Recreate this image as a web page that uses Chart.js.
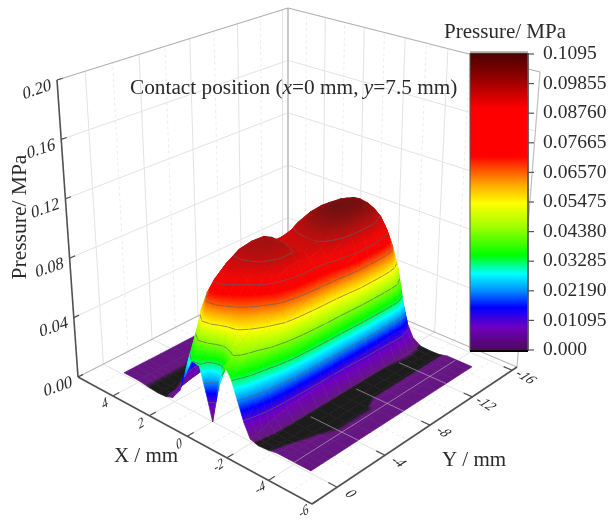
<!DOCTYPE html>
<html>
<head>
<meta charset="utf-8">
<style>
    html, body { margin: 0; padding: 0; background: #fff; }
    canvas { display: block; }
</style>
<script src="https://cdn.jsdelivr.net/npm/chart.js@4"></script>
</head>
<body>
<canvas id="surface" width="611" height="521"></canvas>
<script>
// grid of the surface
const xValues = [4.8, 4, 3.4, 2.9, 2.5, 2.1, 1.7, 1.4, 1, 0.6, 0.3, 0, -0.4, -0.7, -1, -1.3, -1.6, -1.9, -2.3, -2.8, -3.2, -3.6, -4.2, -4.8]
const yValues = [0, -0.5, -1, -1.5, -2, -3, -4, -5, -6, -7, -8, -9, -10, -11, -12, -12.7, -13.3, -14, -14.5]
// pressure in 1e-4 MPa, one row per yValues entry
const pressure = [
    [15, 15, 5, 0, 3, 20, 90, 200, 330, 320, 170, 0, 260, 400, 340, 220, 100, 15, 0, 5, 15, 15, 15, 15],
    [15, 15, 5, 0, 5, 60, 190, 330, 420, 370, 260, 200, 340, 420, 390, 280, 130, 20, 0, 3, 12, 15, 15, 15],
    [15, 15, 5, 0, 8, 110, 290, 440, 570, 540, 470, 420, 460, 470, 420, 320, 170, 30, 0, 2, 10, 15, 15, 15],
    [15, 15, 5, 0, 15, 170, 400, 580, 700, 680, 620, 570, 540, 500, 440, 350, 200, 45, 3, 0, 8, 15, 15, 15],
    [15, 15, 5, 0, 25, 210, 490, 670, 780, 770, 720, 670, 600, 540, 470, 380, 230, 55, 3, 0, 5, 15, 15, 15],
    [15, 15, 5, 0, 40, 260, 580, 760, 850, 850, 830, 790, 720, 640, 560, 460, 290, 70, 4, 0, 2, 10, 15, 15],
    [15, 15, 5, 0, 50, 280, 620, 810, 900, 910, 905, 890, 840, 760, 670, 550, 350, 80, 5, 0, 0, 4, 15, 15],
    [15, 15, 5, 0, 60, 290, 640, 830, 915, 930, 930, 920, 880, 820, 730, 600, 390, 90, 5, 0, 0, 4, 15, 15],
    [15, 15, 5, 0, 60, 290, 640, 830, 910, 925, 920, 905, 880, 830, 760, 630, 420, 100, 5, 0, 0, 4, 15, 15],
    [15, 15, 5, 0, 55, 280, 620, 800, 850, 855, 850, 845, 845, 815, 760, 650, 440, 110, 5, 0, 0, 4, 15, 15],
    [15, 15, 5, 0, 55, 280, 620, 800, 850, 865, 870, 875, 875, 845, 785, 670, 450, 110, 5, 0, 2, 15, 15, 15],
    [15, 15, 5, 0, 50, 280, 630, 820, 900, 930, 945, 950, 950, 920, 850, 720, 480, 120, 5, 0, 2, 15, 15, 15],
    [15, 15, 5, 0, 50, 280, 640, 840, 930, 970, 990, 1000, 995, 965, 890, 760, 520, 130, 5, 0, 2, 15, 15, 15],
    [15, 15, 5, 0, 50, 270, 640, 840, 940, 980, 1000, 1005, 1000, 970, 895, 760, 520, 130, 6, 0, 2, 15, 15, 15],
    [15, 15, 5, 0, 40, 250, 600, 800, 910, 970, 990, 1000, 995, 960, 885, 750, 510, 140, 8, 0, 2, 15, 15, 15],
    [15, 15, 5, 0, 35, 220, 560, 760, 880, 940, 970, 975, 965, 930, 850, 720, 490, 150, 10, 0, 2, 15, 15, 15],
    [15, 15, 5, 0, 30, 190, 510, 700, 820, 880, 910, 915, 905, 870, 800, 670, 450, 140, 10, 0, 2, 15, 15, 15],
    [15, 15, 5, 0, 25, 150, 420, 600, 710, 780, 815, 820, 790, 740, 640, 500, 280, 90, 8, 0, 2, 15, 15, 15],
    [15, 15, 5, 0, 15, 100, 280, 420, 530, 600, 635, 620, 540, 450, 330, 230, 120, 40, 4, 0, 2, 15, 15, 15]
]

const xTicks = [4, 2, 0, -2, -4, -6]
const xMinor = [5, 3, 1, -1, -3, -5]
const yTicks = [0, -4, -8, -12, -16]
const yMinor = [-2, -6, -10, -14]
const zTicks = [0, 0.04, 0.08, 0.12, 0.16, 0.2]
const zTickLabels = ['0.00', '0.04', '0.08', '0.12', '0.16', '0.20']
const barLabels = ['0.1095', '0.09855', '0.08760', '0.07665', '0.06570', '0.05475', '0.04380', '0.03285', '0.02190', '0.01095', '0.000']
const contourLevels = [0.01095, 0.0219, 0.03285, 0.0438, 0.05475, 0.0657, 0.07665, 0.0876]

const scaleValues = [0, 0.0086, 0.016, 0.0222, 0.0284, 0.0352, 0.0457, 0.0543, 0.0605, 0.0667, 0.0716, 0.0889, 0.1012, 0.1095]
const scaleColors = ['#4a0a55', '#7000c0', '#0000ff', '#0090ff', '#00ffff', '#00ff00', '#a0ff00', '#ffff00', '#ffb000', '#ff5000', '#ff0000', '#ff0000', '#8b0000', '#4a0000']

// box corners on the page: [X=6 Y=2, X=-6 Y=2, X=-6 Y=-16.5, X=6 Y=-16.5]
const floorCorners = [[78, 377], [312, 504], [517, 367], [288, 270]]
const roofCorners = [[57, 80], [312, 168], [540, 72], [288, 8]]
const xRange = [6, -6]
const yRange = [2, -16.5]
const zMax = 0.2

function quadMap(q) {
    const [[x0, y0], [x1, y1], [x2, y2], [x3, y3]] = q
    const dx1 = x1 - x2, dx2 = x3 - x2, sx = x0 - x1 + x2 - x3
    const dy1 = y1 - y2, dy2 = y3 - y2, sy = y0 - y1 + y2 - y3
    const den = dx1 * dy2 - dx2 * dy1
    const g = (sx * dy2 - dx2 * sy) / den
    const h = (dx1 * sy - sx * dy1) / den
    const a = x1 - x0 + g * x1, b = x3 - x0 + h * x3
    const d = y1 - y0 + g * y1, e = y3 - y0 + h * y3
    return (u, v) => {
        const w = g * u + h * v + 1
        return [(a * u + b * v + x0) / w, (d * u + e * v + y0) / w]
    }
}
const floorMap = quadMap(floorCorners)
const roofMap = quadMap(roofCorners)

function project(x, y, z) {
    const u = (x - xRange[0]) / (xRange[1] - xRange[0])
    const v = (y - yRange[0]) / (yRange[1] - yRange[0])
    const f = floorMap(u, v), r = roofMap(u, v), t = z / zMax
    return {x: f[0] + (r[0] - f[0]) * t, y: f[1] + (r[1] - f[1]) * t}
}

function hexRgb(h) {
    return [parseInt(h.slice(1, 3), 16), parseInt(h.slice(3, 5), 16), parseInt(h.slice(5, 7), 16)]
}

// the surface uses the bar's map with black for the untouched area and a darker crest
const surfaceValues = [0, 0.0005, 0.0009].concat(scaleValues.slice(1, 11), [0.08, 0.092, 0.1005])
const surfaceColors = ['#1c1c1c', '#1c1c1c', '#65187e'].concat(scaleColors.slice(1, 11), ['#f00808', '#a81010', '#701010'])

function colorAt(z) {
    let i = 0
    while (i < surfaceValues.length - 2 && z > surfaceValues[i + 1]) i++
    const t = Math.min(1, Math.max(0, (z - surfaceValues[i]) / (surfaceValues[i + 1] - surfaceValues[i])))
    const a = hexRgb(surfaceColors[i]), b = hexRgb(surfaceColors[i + 1])
    return `rgb(${a.map((v, k) => Math.round(v + (b[k] - v) * t)).join(',')})`
}

function scalesReady(chart) {
    return chart.chartArea && Number.isFinite(chart.scales.y.getPixelForValue(100)) && chart.scales.y.height > 0
}

// gradient across one cell, following its slope on the page
function cellPaint(chart, pts) {
    const mz = pts.reduce((s, p) => s + p.z, 0) / 4
    if (!scalesReady(chart)) return colorAt(mz)
    const sx = chart.scales.x, sy = chart.scales.y
    const q = pts.map(p => ({x: sx.getPixelForValue(p.x), y: sy.getPixelForValue(p.y), z: p.z}))
    const mx = q.reduce((s, p) => s + p.x, 0) / 4
    const my = q.reduce((s, p) => s + p.y, 0) / 4
    let xx = 0, xy = 0, yy = 0, xz = 0, yz = 0
    q.forEach(p => {
        const dx = p.x - mx, dy = p.y - my, dz = p.z - mz
        xx += dx * dx; xy += dx * dy; yy += dy * dy; xz += dx * dz; yz += dy * dz
    })
    const det = xx * yy - xy * xy
    const lo = Math.min(...q.map(p => p.z)), hi = Math.max(...q.map(p => p.z))
    if (Math.abs(det) < 1e-6 || hi - lo < 1e-6) return colorAt(mz)
    const a = (xz * yy - yz * xy) / det, b = (yz * xx - xz * xy) / det
    const n = a * a + b * b
    if (!(n > 0)) return colorAt(mz)
    const grad = chart.ctx.createLinearGradient(
        mx + a * (lo - mz) / n, my + b * (lo - mz) / n,
        mx + a * (hi - mz) / n, my + b * (hi - mz) / n)
    grad.addColorStop(0, colorAt(lo))
    surfaceValues.forEach(v => {
        if (v > lo && v < hi) grad.addColorStop((v - lo) / (hi - lo), colorAt(v))
    })
    grad.addColorStop(1, colorAt(hi))
    return grad
}

function lineSet(points, color, width, dash) {
    return {data: points, showLine: true, fill: false, borderColor: color, borderWidth: width,
        borderDash: dash || [], pointRadius: 0, tension: 0}
}

function edge(a, b, color, width, dash) {
    return lineSet([project(...a), project(...b)], color, width, dash)
}

function cellContour(p) {
    const segs = []
    contourLevels.forEach(level => {
        const hits = []
        for (let i = 0; i < 4; i++) {
            const a = p[i], b = p[(i + 1) % 4]
            if ((a.z < level) !== (b.z < level)) {
                const t = (level - a.z) / (b.z - a.z)
                hits.push({x: a.x + (b.x - a.x) * t, y: a.y + (b.y - a.y) * t})
            }
        }
        for (let i = 0; i + 1 < hits.length; i += 2) segs.push(hits[i], hits[i + 1], {x: NaN, y: NaN})
    })
    return segs
}

const bar = {left: 470, right: 528, top: 53, bottom: 351, first: 54, step: 29.6}

function buildDatasets() {
    const sets = []
    const wall = '#e3e3e3', wallDash = '#ececec'

    // walls and floor, back to front
    zTicks.slice(1, 5).forEach(z => {
        sets.push(edge([6, 2, z], [6, -16.5, z], wall, 1))
        sets.push(edge([6, -16.5, z], [-6, -16.5, z], wall, 1))
    })
    yTicks.forEach(y => {
        sets.push(edge([6, y, 0], [6, y, zMax], wall, 1))
        sets.push(edge([6, y, 0], [-6, y, 0], wall, 1))
    })
    yMinor.forEach(y => {
        sets.push(edge([6, y, 0], [6, y, zMax], wallDash, 1, [3, 3]))
        sets.push(edge([6, y, 0], [-6, y, 0], wallDash, 1, [3, 3]))
    })
    xTicks.slice(0, 5).forEach(x => {
        sets.push(edge([x, -16.5, 0], [x, -16.5, zMax], wall, 1))
        sets.push(edge([x, 2, 0], [x, -16.5, 0], wall, 1))
    })
    xMinor.forEach(x => {
        sets.push(edge([x, -16.5, 0], [x, -16.5, zMax], wallDash, 1, [3, 3]))
        sets.push(edge([x, 2, 0], [x, -16.5, 0], wallDash, 1, [3, 3]))
    })
    sets.push(edge([6, -16.5, 0], [6, -16.5, zMax], '#c8c8c8', 2))
    sets.push(edge([6, 2, zMax], [6, -16.5, zMax], '#b0b0b0', 1.2))
    sets.push(edge([6, -16.5, zMax], [-6, -16.5, zMax], '#b0b0b0', 1.2))
    sets.push(edge([-6, -16.5, 0], [-6, -16.5, zMax], '#c0c0c0', 1.2))
    sets.push(edge([6, 2, 0], [6, -16.5, 0], '#b8b8b8', 1.2))
    sets.push(edge([6, -16.5, 0], [-6, -16.5, 0], '#b8b8b8', 1.2))

    // surface cells, far ones first
    const cells = []
    for (let j = 0; j < yValues.length - 1; j++) {
        for (let i = 0; i < xValues.length - 1; i++) {
            const corners = [[i, j], [i + 1, j], [i + 1, j + 1], [i, j + 1]].map(([a, b]) => {
                const z = pressure[b][a] * 1e-4
                return Object.assign(project(xValues[a], yValues[b], z), {z})
            })
            const depth = (xValues[i] + xValues[i + 1]) * 1.0 - (yValues[j] + yValues[j + 1]) * 0.72
            cells.push({corners, depth})
        }
    }
    cells.sort((a, b) => b.depth - a.depth)
    cells.forEach(cell => {
        const paint = c => cellPaint(c.chart, cell.corners)
        const outline = cell.corners.concat([cell.corners[0]])
        sets.push({data: outline, showLine: true, fill: 'shape', backgroundColor: paint, borderColor: paint,
            borderWidth: 0.7, pointRadius: 0, tension: 0})
        const contour = cellContour(cell.corners)
        if (contour.length) sets.push(lineSet(contour, 'rgba(95,95,95,0.75)', 0.9))
    })

    // floor grid shows through on the flat part
    const over = 'rgba(185,185,185,0.6)'
    sets.push(edge([-4, 0, 0.001], [-4, -14.5, 0.001], over, 1))
    ;[-4, -8, -12].forEach(y => sets.push(edge([-4.8, y, 0.001], [-2.5, y, 0.001], over, 1)))

    // axes
    const axis = '#505050'
    sets.push(edge([6, 2, 0], [6, 2, zMax], axis, 1.6))
    sets.push(edge([6, 2, 0], [-6, 2, 0], axis, 1.6))
    sets.push(edge([-6, 2, 0], [-6, -16.5, 0], axis, 1.6))
    zTicks.forEach(z => sets.push(edge([6, 2, z], [6, 1.6, z], axis, 1.2)))
    xTicks.forEach(x => sets.push(edge([x, 2, 0], [x, 1.5, 0], axis, 1.2)))
    yTicks.forEach(y => sets.push(edge([-6, y, 0], [-5.6, y, 0], axis, 1.2)))

    // colour bar
    const barPaint = c => {
        if (!scalesReady(c.chart)) return scaleColors[6]
        const sy = c.chart.scales.y
        const grad = c.chart.ctx.createLinearGradient(0, sy.getPixelForValue(bar.top), 0, sy.getPixelForValue(bar.bottom))
        scaleValues.forEach((v, i) => grad.addColorStop(1 - v / 0.1095, scaleColors[i]))
        return grad
    }
    const r = [{x: bar.left, y: bar.top}, {x: bar.right, y: bar.top}, {x: bar.right, y: bar.bottom}, {x: bar.left, y: bar.bottom}, {x: bar.left, y: bar.top}]
    sets.push({data: r, showLine: true, fill: 'shape', backgroundColor: barPaint, borderColor: '#555', borderWidth: 1, pointRadius: 0, tension: 0})
    sets.push(lineSet([{x: bar.left, y: bar.bottom}, {x: bar.right, y: bar.bottom}], '#000', 2))
    sets.push(lineSet([{x: bar.left, y: bar.top - 1}, {x: bar.right, y: bar.top - 1}], '#aaa', 1.5))
    barLabels.forEach((_, i) => {
        const y = bar.first + i * bar.step
        sets.push(lineSet([{x: bar.right, y}, {x: bar.right + 6, y}], '#555', 1.2))
    })
    return sets.reverse()
}

const serif = '"Liberation Serif", serif'
const textColor = '#2a2a2a'

function put(ctx, text, x, y, font, angle, shear) {
    ctx.save()
    ctx.font = font
    ctx.fillStyle = textColor
    ctx.textAlign = 'center'
    ctx.textBaseline = 'middle'
    ctx.translate(x, y)
    ctx.rotate(angle || 0)
    if (shear) ctx.transform(1, 0, shear, 1, 0, 0)
    ctx.fillText(text, 0, 0)
    ctx.restore()
}

const textPlugin = {
    id: 'boxText',
    afterDraw(chart) {
        const ctx = chart.ctx
        const sx = chart.scales.x, sy = chart.scales.y
        const at = p => [sx.getPixelForValue(p.x), sy.getPixelForValue(p.y)]

        // box tick labels sit in the tilted planes
        zTicks.forEach((z, i) => {
            const [x, y] = at(project(6, 2, z))
            put(ctx, zTickLabels[i], x - 20, y + 10, '17px ' + serif, -0.33, -0.25)
        })
        xTicks.forEach(x => {
            const [px, py] = at(project(x, 2, 0))
            put(ctx, String(x), px - 8, py + 8, '13px ' + serif, -0.6, -0.5)
        })
        yTicks.forEach(y => {
            const [px, py] = at(project(-6, y, 0))
            put(ctx, String(y), px + 13, py + 7, '14px ' + serif, 0.55, -0.5)
        })

        // axis titles
        put(ctx, 'Pressure/ MPa', 20, 217, '21.5px ' + serif, -Math.PI / 2)
        put(ctx, 'X / mm', 146, 456, '21px ' + serif)
        put(ctx, 'Y / mm', 474, 460, '21px ' + serif)
        put(ctx, 'Pressure/ MPa', 505, 32, '21px ' + serif)

        // colour bar labels
        ctx.save()
        ctx.font = '19.5px ' + serif
        ctx.fillStyle = textColor
        ctx.textBaseline = 'middle'
        barLabels.forEach((t, i) => ctx.fillText(t, 543, bar.first + i * bar.step))
        ctx.restore()

        // note inside the box, with the italic coordinate names
        const parts = [['Contact position (', ''], ['x', 'italic '], ['=0 mm, ', ''], ['y', 'italic '], ['=7.5 mm)', '']]
        ctx.save()
        ctx.fillStyle = textColor
        ctx.textBaseline = 'middle'
        let tx = 130
        parts.forEach(([t, style]) => {
            ctx.font = style + '21.3px ' + serif
            ctx.fillText(t, tx, 88)
            tx += ctx.measureText(t).width
        })
        ctx.restore()
    }
}

new Chart(document.getElementById('surface'), {
    type: 'scatter',
    data: {datasets: buildDatasets()},
    options: {
        responsive: false,
        animation: false,
        layout: {padding: 0},
        plugins: {legend: {display: false}, tooltip: {enabled: false}},
        events: [],
        scales: {
            x: {type: 'linear', min: 0, max: 611, display: false},
            y: {type: 'linear', min: 0, max: 521, reverse: true, display: false}
        }
    },
    plugins: [textPlugin]
})
</script>
</body>
</html>
